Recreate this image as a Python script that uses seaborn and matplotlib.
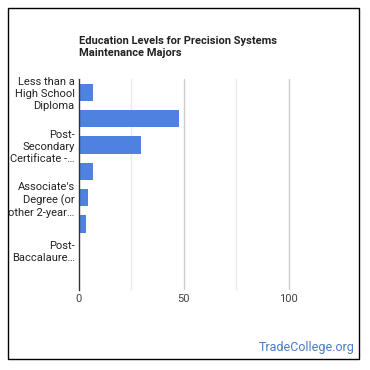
import matplotlib
matplotlib.use("Agg")
import matplotlib.pyplot as plt
import seaborn as sns
import pandas as pd
from matplotlib.patches import Rectangle

categories = [
    "Less than a High School Diploma",
    "High School Diploma",
    "Post-Secondary Certificate",
    "Some College Courses",
    "Associate's Degree",
    "Bachelor's Degree",
    "Post-Baccalaureate Certificate",
    "Master's Degree",
]
values = [6.7, 47.7, 29.5, 6.8, 4.3, 3.4, 0.4, 0.6]
tick_labels = [
    "Less than a\nHigh School\nDiploma",
    "",
    "Post-\nSecondary\nCertificate -\u2026",
    "",
    "Associate's\nDegree (or\nother 2-year\u2026",
    "",
    "Post-\nBaccalaure\u2026",
    "",
]
x_ticks = [0, 50, 100]
title = "Education Levels for Precision Systems\nMaintenance Majors"

sns.set_style("white")
plt.rcParams["font.family"] = ["Roboto", "DejaVu Sans"]

df = pd.DataFrame({"cat": categories, "val": values})

fig = plt.figure(figsize=(3.7, 3.7), dpi=100)
ax = fig.add_axes([79/370, 1-290/370, (341-79)/370, (290-79)/370])

sns.barplot(data=df, y="cat", x="val", orient="h", color="#4f82e0",
            saturation=1, width=0.65, ax=ax, edgecolor="none")

ax.set_xlim(0, 125)
ax.set_ylim(7.5, -0.5)
ax.set_xticks(x_ticks)
ax.set_xticklabels([str(t) for t in x_ticks])
ax.set_yticks(range(len(categories)))
ax.set_yticklabels(tick_labels, fontsize=8, color="#222222", linespacing=1.25)
ax.tick_params(axis="x", length=0, pad=3, labelsize=8, labelcolor="#444444")
ax.tick_params(axis="y", length=0, pad=3)
ax.set_xlabel("")
ax.set_ylabel("")

for v in [25, 75]:
    ax.axvline(v, color="#ebebeb", lw=1, zorder=0)
for v in [50, 100]:
    ax.axvline(v, color="#cccccc", lw=1, zorder=0)

for s in ["top", "right", "bottom"]:
    ax.spines[s].set_visible(False)
ax.spines["left"].set_color("#333333")
ax.spines["left"].set_linewidth(1)

fig.text(79/370, 1-36/370, title, fontsize=8, fontweight="bold",
         color="#222222", va="top", ha="left", linespacing=1.3)
fig.text(355/370, 1-348/370, "TradeCollege.org", fontsize=9,
         color="#4b7bc6", ha="right", va="center")

fig.add_artist(Rectangle((8/370, 1-359/370), 351/370, 351/370,
                         transform=fig.transFigure, fill=False,
                         edgecolor="black", lw=1.0))

fig.savefig("out.png", dpi=100)
